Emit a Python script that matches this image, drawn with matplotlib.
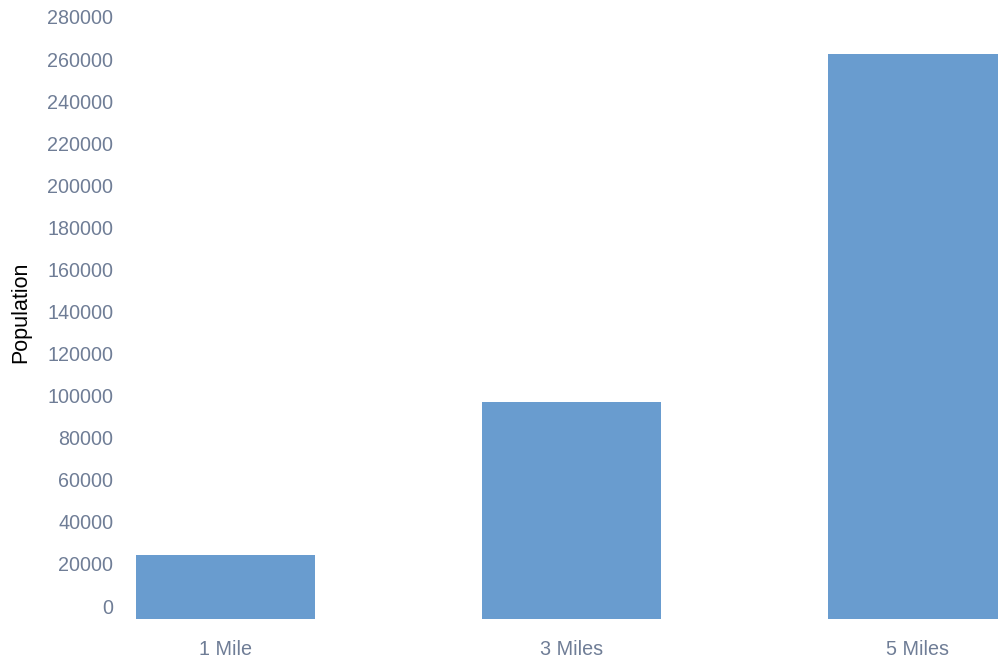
"""
Population within radius - column chart
"""

import matplotlib.pyplot as plt
from matplotlib.transforms import ScaledTranslation

plt.rcParams["font.family"] = ["Liberation Sans", "DejaVu Sans"]

# Data
categories = ["1 Mile", "3 Miles", "5 Miles"]
population = [30400, 103200, 268600]
y_ticks = list(range(0, 280001, 20000))

bar_color = "#699ccf"
label_color = "#6f7d96"

fig = plt.figure(figsize=(9.98, 6.66), dpi=100)
W, H = 998, 666

# plot area in pixels: x 125..998, y 30..619
ax = fig.add_axes([125 / W, (H - 619) / H, (998 - 125) / W, (619 - 30) / H])

x = range(len(categories))
ax.bar(x, population, width=0.517, color=bar_color)

ax.set_xlim((125 - 225.5) / 346, (998 - 225.5) / 346)
ax.set_ylim(0, 280000)
ax.set_xticks(list(x))
ax.set_xticklabels(categories)
ax.set_yticks(y_ticks)
ax.set_yticklabels([str(v) for v in y_ticks])

for s in ax.spines.values():
    s.set_visible(False)
ax.tick_params(axis="both", length=0, colors=label_color, labelsize=14.2)
ax.tick_params(axis="y", pad=8.5)
ax.tick_params(axis="x", pad=15)

# y labels sit a bit above their tick positions
offset = ScaledTranslation(0, 13 / 100, fig.dpi_scale_trans)
for lab in ax.get_yticklabels():
    lab.set_transform(lab.get_transform() + offset)

fig.text(21 / W, 1 - 312 / H, "Population", rotation=90, ha="center", va="center",
         fontsize=15.5, color="black")

fig.savefig("out.png", dpi=100)
plt.close(fig)
